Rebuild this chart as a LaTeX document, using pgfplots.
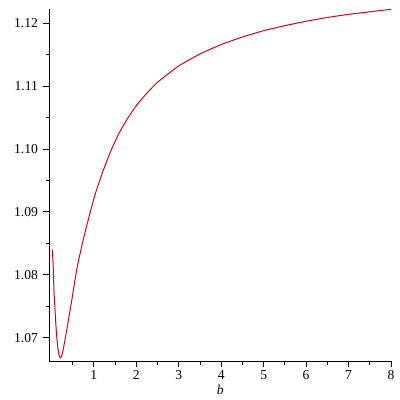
\documentclass[border=0pt]{standalone}
\usepackage{fontspec}
\setmainfont{Liberation Serif}
\usepackage{pgfplots}
\pgfplotsset{compat=1.18}
\definecolor{curve}{RGB}{205,0,25}

\begin{document}
\begin{tikzpicture}
% 1 px of the reference = 0.025cm
\path[use as bounding box] (-1.2325,-0.975) rectangle (8.765,9.0225);
\begin{axis}[scale only axis, width=8.54cm, height=8.79cm,
  at={(0,0)}, anchor=south west,
  axis lines*=left, axis line style={black, line width=0.6pt},
  xmin=-0.05, xmax=8, ymin=1.0663, ymax=1.1222,
  xtick={1,2,...,8}, minor xtick={0.5,1.5,...,7.5},
  ytick={1.07,1.08,...,1.12}, minor ytick={1.075,1.085,...,1.115},
  tick align=outside, tick pos=left,
  major tick length=4.5pt, minor tick length=2.5pt,
  tick style={black, line width=0.6pt},
  yticklabel style={/pgf/number format/.cd, fixed, fixed zerofill, precision=2},
  /pgf/number format/assume math mode=true,
  tick label style={font=\fontsize{9.7}{11}\selectfont},
  xticklabel style={yshift=1pt},
  xlabel={\textit{b}}, xlabel style={font=\fontsize{9.7}{11}\selectfont, yshift=3pt},
  clip=false]
\addplot[curve, line width=0.7pt, smooth, tension=0.3] coordinates {
(0.02,1.0840)(0.04,1.0816)(0.06,1.0775)(0.09,1.0738)(0.12,1.0705)
(0.15,1.0685)(0.18,1.0672)(0.21,1.0668)(0.24,1.0671)(0.28,1.0682)
(0.36,1.0712)(0.48,1.0760)(0.60,1.0810)(0.75,1.0856)(0.90,1.0896)
(1.03,1.0928)(1.20,1.0962)(1.40,1.0997)(1.60,1.1026)(1.80,1.1049)
(2.00,1.1069)(2.20,1.1085)(2.50,1.1106)(3.00,1.1132)(3.50,1.1151)
(4.00,1.1166)(4.50,1.1178)(5.00,1.1188)(5.50,1.1196)(6.00,1.1203)
(6.50,1.1209)(7.00,1.1214)(7.50,1.1218)(8.00,1.1222)};
\end{axis}
\end{tikzpicture}
\end{document}
